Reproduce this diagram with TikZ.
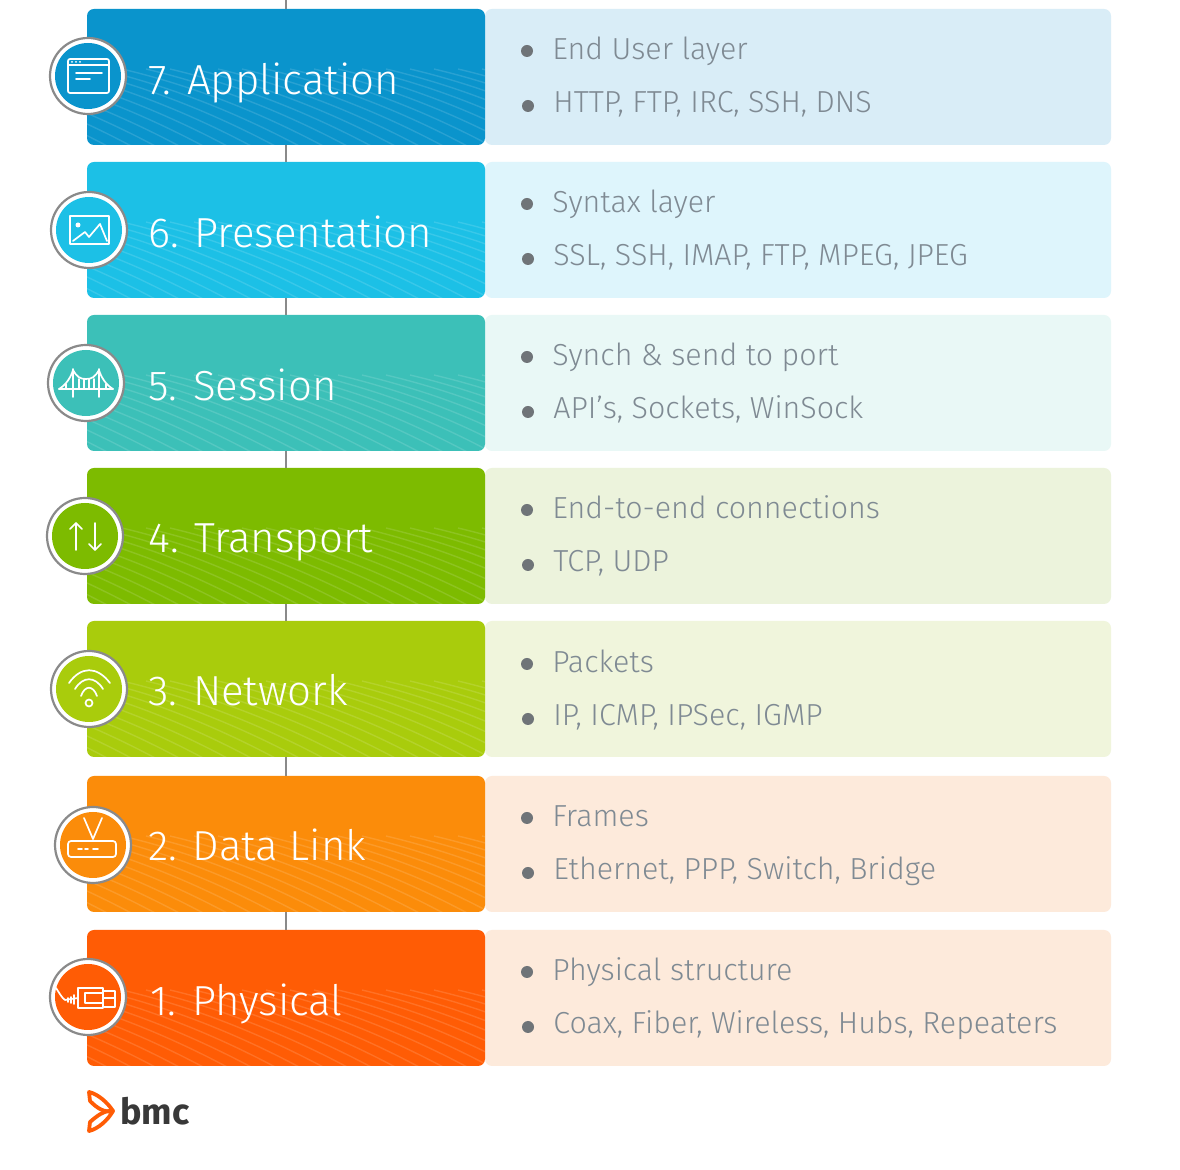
\documentclass[tikz,border=0pt]{standalone}
\usepackage{fontspec}
\setmainfont{Fira Sans}
\newfontfamily\lightfont{Fira Sans Light}
\definecolor{cA}{HTML}{0A94CC}\definecolor{cB}{HTML}{1CC0E6}\definecolor{cC}{HTML}{3CC0B8}
\definecolor{cD}{HTML}{7DBB00}\definecolor{cE}{HTML}{A9CC0C}\definecolor{cF}{HTML}{FB8C0A}\definecolor{cG}{HTML}{FF5C05}
\definecolor{pA}{HTML}{D9EDF7}\definecolor{pB}{HTML}{DEF5FC}\definecolor{pC}{HTML}{E9F8F6}
\definecolor{pD}{HTML}{ECF3DC}\definecolor{pE}{HTML}{F0F5DC}\definecolor{pF}{HTML}{FDEADB}\definecolor{pG}{HTML}{FDEADB}
\definecolor{txt}{HTML}{7F8A93}\definecolor{ring}{HTML}{8A8A8A}\definecolor{dot}{HTML}{6F7478}
\tikzset{
 leftbox/.style={rectangle,rounded corners=3.5pt,minimum width=199pt,minimum height=68pt,inner sep=0,outer sep=0,anchor=north west},
 rightbox/.style={rectangle,rounded corners=3.5pt,minimum width=313pt,minimum height=68pt,inner sep=0,outer sep=0,anchor=north west},
 head/.style={text=white,anchor=base west,inner sep=0,font=\lightfont\fontsize{21}{21}\selectfont},
 item/.style={text=txt,anchor=base west,inner sep=0,font=\lightfont\fontsize{15.2}{15}\selectfont},
 bul/.style={circle,fill=dot,minimum size=6pt,inner sep=0},
 outerring/.style={circle,fill=white,draw=ring,line width=1.1pt,minimum size=38pt,inner sep=0},
 innerdisc/.style={circle,minimum size=33pt,inner sep=0},
 conn/.style={draw=ring,line width=.8pt},
 ico/.style={draw=white,line width=.85pt,line join=round,line cap=round},
 stripe/.style={draw=white,opacity=.13,line width=.7pt},
}
\newcommand{\stripes}{%
 \begin{scope}[shift={(path picture bounding box.north west)}]
  \foreach \s in {-380,-356,...,400}{
   \draw[stripe] (\s,-8) .. controls (\s+110,18) and (\s+220,70) .. (\s+330,150);
  }
 \end{scope}}
\begin{document}
\begin{tikzpicture}[x=.5pt,y=-.5pt]
\useasboundingbox (0,0) rectangle (1180,1170);
\fill[white] (0,0) rectangle (1180,1170);
\foreach \n/\t/\c/\p in {7/9/cA/pA,6/162/cB/pB,5/315/cC/pC,4/468/cD/pD,3/621/cE/pE,2/776/cF/pF,1/930/cG/pG}{
 \node[rightbox,fill=\p] (R\n) at (485,\t) {};
 \node[leftbox,fill=\c,path picture={\stripes}] (L\n) at (87,\t) {};
}
\coordinate (top) at (286,0);
\draw[conn] (top) -- (L7.north);
\draw[conn] (L7.south) -- (L6.north);
\draw[conn] (L6.south) -- (L5.north);
\draw[conn] (L5.south) -- (L4.north);
\draw[conn] (L4.south) -- (L3.north);
\draw[conn] (L3.south) -- (L2.north);
\draw[conn] (L2.south) -- (L1.north);
% rings
\foreach \n/\x/\y/\c in {7/88/76/cA,6/89/230/cB,5/86/383/cC,4/85/536/cD,3/89/689/cE,2/93/845/cF,1/88/997/cG}{
 \node[outerring] (O\n) at (\x,\y) {};
 \node[innerdisc,fill=\c] (I\n) at (\x,\y) {};
}
% headings
\node[head] (H7) at (148,95) {7. Application};
\node[head] (H6) at (148,248) {6. Presentation};
\node[head] (H5) at (148,401) {5. Session};
\node[head] (H4) at (148,553) {4. Transport};
\node[head] (H3) at (148,706) {3. Network};
\node[head] (H2) at (148,861) {2. Data Link};
\node[head] (H1) at (150,1016) {1. Physical};
% items
\foreach \n/\t/\a/\b in {
 7/9/End User layer/{HTTP, FTP, IRC, SSH, DNS},
 6/162/Syntax layer/{SSL, SSH, IMAP, FTP, MPEG, JPEG},
 5/315/Synch \& send to port/{API’s, Sockets, WinSock},
 4/468/End-to-end connections/{TCP, UDP},
 3/622/Packets/{IP, ICMP, IPSec, IGMP},
 2/776/Frames/{Ethernet, PPP, Switch, Bridge},
 1/930/Physical structure/{Coax, Fiber, Wireless, Hubs, Repeaters}}{
 \pgfmathsetmacro{\ya}{\t+42}\pgfmathsetmacro{\yb}{\t+97}
 \pgfmathsetmacro{\za}{\t+51}\pgfmathsetmacro{\zb}{\t+104}
 \node[bul] (Ba\n) at (527,\ya) {};
 \node[bul] (Bb\n) at (528,\yb) {};
 \node[item] (Ta\n) at (552,\za) {\a};
 \node[item] (Tb\n) at (553,\zb) {\b};
}
% icon 7
\begin{scope}[shift={(I7.center)}]
 \draw[ico,rounded corners=1pt] (-20,-17) rectangle (21,17);
 \draw[ico] (-20,-11) -- (21,-11);
 \draw[ico] (-12,-3) -- (14,-3) (-12,3) -- (2,3);
 \foreach \d in {-16,-12,-8}{\fill[white] (\d,-14) circle (1);}
\end{scope}
% icon 6
\begin{scope}[shift={(I6.center)}]
 \draw[ico] (-19,-14) rectangle (20,14);
 \draw[ico] (-16,11) -- (-4,2) -- (0,7) -- (11,-6) -- (18,11);
 \fill[white] (-11,-5) circle (2.5);
\end{scope}
% icon 5
\begin{scope}[shift={(I5.center)}]
 \draw[ico] (-27,6) -- (27,6);
 \draw[ico] (-13,-14) -- (-13,14) (13,-14) -- (13,14);
 \draw[ico] (-27,6) .. controls (-20,2) and (-15,-6) .. (-13,-13) .. controls (-9,-6) and (-6,-4) .. (0,-4) .. controls (6,-4) and (9,-6) .. (13,-13) .. controls (15,-6) and (20,2) .. (27,6);
 \draw[ico] (-7,-4) -- (-7,6) (-2,-4) -- (-2,6) (3,-4) -- (3,6) (8,-4) -- (8,6);
 \draw[ico] (-20,6) -- (-20,1) (20,6) -- (20,1);
\end{scope}
% icon 4
\begin{scope}[shift={(I4.center)}]
 \draw[ico] (-9,14) -- (-9,-13) (-15,-7) -- (-9,-13) -- (-3,-7);
 \draw[ico] (10,-13) -- (10,14) (4,8) -- (10,14) -- (16,8);
\end{scope}
% icon 3
\begin{scope}[shift={(I3.center)}]
 \draw[ico] (-20,-6) .. controls (-8,-23) and (8,-23) .. (21,-6);
 \draw[ico] (-14,0) .. controls (-6,-13) and (6,-13) .. (14,0);
 \draw[ico] (-8,7) .. controls (-4,-4) and (4,-4) .. (8,7);
 \draw[ico] (0,14) circle (3.5);
\end{scope}
% icon 2
\begin{scope}[shift={(I2.center)}]
 \draw[ico,rounded corners=1.5pt] (-25,-4) rectangle (23,12);
 \draw[ico] (-9,-27) -- (0,-6) -- (9,-27);
 \draw[ico] (-15,4) -- (-11,4) (-8,4) -- (-5,4) (0,4) -- (5,4);
\end{scope}
% icon 1
\begin{scope}[shift={(I1.center)}]
 \draw[ico] (-10,-9) rectangle (15,11);
 \draw[ico] (-3,-4) rectangle (15,6);
 \draw[ico] (15,-6) rectangle (27,10);
 \draw[ico] (15,1) -- (27,1);
 \draw[ico] (-32,-9) .. controls (-28,-3) and (-26,1) .. (-23,3) -- (-10,1);
 \draw[ico] (-20,1) -- (-20,5) (-17,0) -- (-17,6) (-14,-2) -- (-14,7);
\end{scope}
% logo
\node[anchor=base west,inner sep=0,text=black!78,font=\bfseries\fontsize{18}{18}\selectfont] (bmc) at (120,1125) {bmc};
\coordinate (lA) at (89,1092);\coordinate (lB) at (113,1111);\coordinate (lC) at (89,1131);
\draw[draw=cG,line width=1.9pt,line join=round]
 (lA) .. controls (98,1094) and (108,1103) .. (lB) .. controls (104,1113) and (97,1108) .. (90,1101) -- cycle;
\draw[draw=cG,line width=1.9pt,line join=round]
 (lC) .. controls (98,1129) and (108,1120) .. (lB) .. controls (104,1110) and (97,1116) .. (90,1122) -- cycle;
\end{tikzpicture}
\end{document}
